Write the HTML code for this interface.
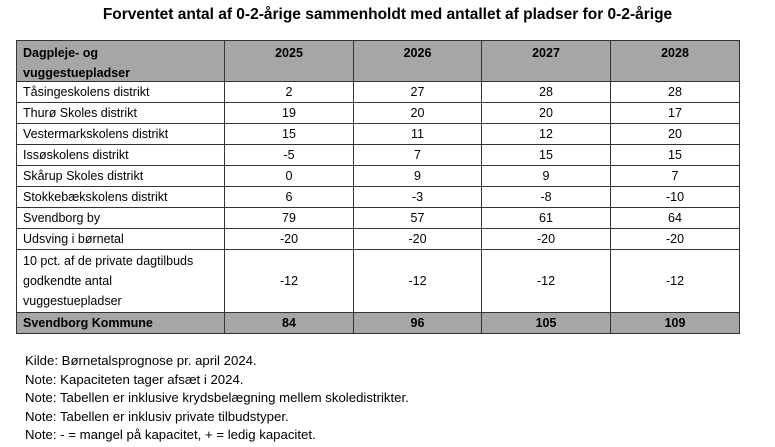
<!DOCTYPE html>
<html><head><meta charset="utf-8"><style>
body{margin:0;width:775px;height:447px;background:#fff;font-family:"Liberation Sans",Arial,sans-serif;color:#000;position:relative;overflow:hidden}
.title{position:absolute;top:6px;left:0;width:775px;text-align:center;font-weight:bold;font-size:15.5px}
table{position:absolute;left:16px;top:40px;border-collapse:collapse;font-size:12.5px}
td{border:1px solid #333;padding:0 6px;height:20px;line-height:20px;text-align:center}
td:first-child{text-align:left}
tr.h td{background:#a6a6a6;font-weight:bold;height:40px;line-height:20px;vertical-align:top;padding-top:0}
tr.h td span{position:relative;top:2px}
tr.t td{background:#a6a6a6;font-weight:bold;height:20px}
.notes{position:absolute;left:25px;top:352px;font-size:13.2px;line-height:18.5px}
</style></head><body>
<div class="title">Forventet antal af 0-2-årige sammenholdt med antallet af pladser for 0-2-årige</div>
<table>
<colgroup><col style="width:208px"><col style="width:129px"><col style="width:128px"><col style="width:129px"><col style="width:129px"></colgroup>
<tr class="h"><td><span>Dagpleje- og<br>vuggestuepladser</span></td><td><span>2025</span></td><td><span>2026</span></td><td><span>2027</span></td><td><span>2028</span></td></tr>
<tr><td>Tåsingeskolens distrikt</td><td>2</td><td>27</td><td>28</td><td>28</td></tr>
<tr><td>Thurø Skoles distrikt</td><td>19</td><td>20</td><td>20</td><td>17</td></tr>
<tr><td>Vestermarkskolens distrikt</td><td>15</td><td>11</td><td>12</td><td>20</td></tr>
<tr><td>Issøskolens distrikt</td><td>-5</td><td>7</td><td>15</td><td>15</td></tr>
<tr><td>Skårup Skoles distrikt</td><td>0</td><td>9</td><td>9</td><td>7</td></tr>
<tr><td>Stokkebækskolens distrikt</td><td>6</td><td>-3</td><td>-8</td><td>-10</td></tr>
<tr><td>Svendborg by</td><td>79</td><td>57</td><td>61</td><td>64</td></tr>
<tr><td>Udsving i børnetal</td><td>-20</td><td>-20</td><td>-20</td><td>-20</td></tr>
<tr><td style="height:62px">10 pct. af de private dagtilbuds<br>godkendte antal<br>vuggestuepladser</td><td>-12</td><td>-12</td><td>-12</td><td>-12</td></tr>
<tr class="t"><td>Svendborg Kommune</td><td>84</td><td>96</td><td>105</td><td>109</td></tr>
</table>
<div class="notes">Kilde: Børnetalsprognose pr. april 2024.<br>Note: Kapaciteten tager afsæt i 2024.<br>Note: Tabellen er inklusive krydsbelægning mellem skoledistrikter.<br>Note: Tabellen er inklusiv private tilbudstyper.<br>Note: - = mangel på kapacitet, + = ledig kapacitet.</div>
</body></html>
